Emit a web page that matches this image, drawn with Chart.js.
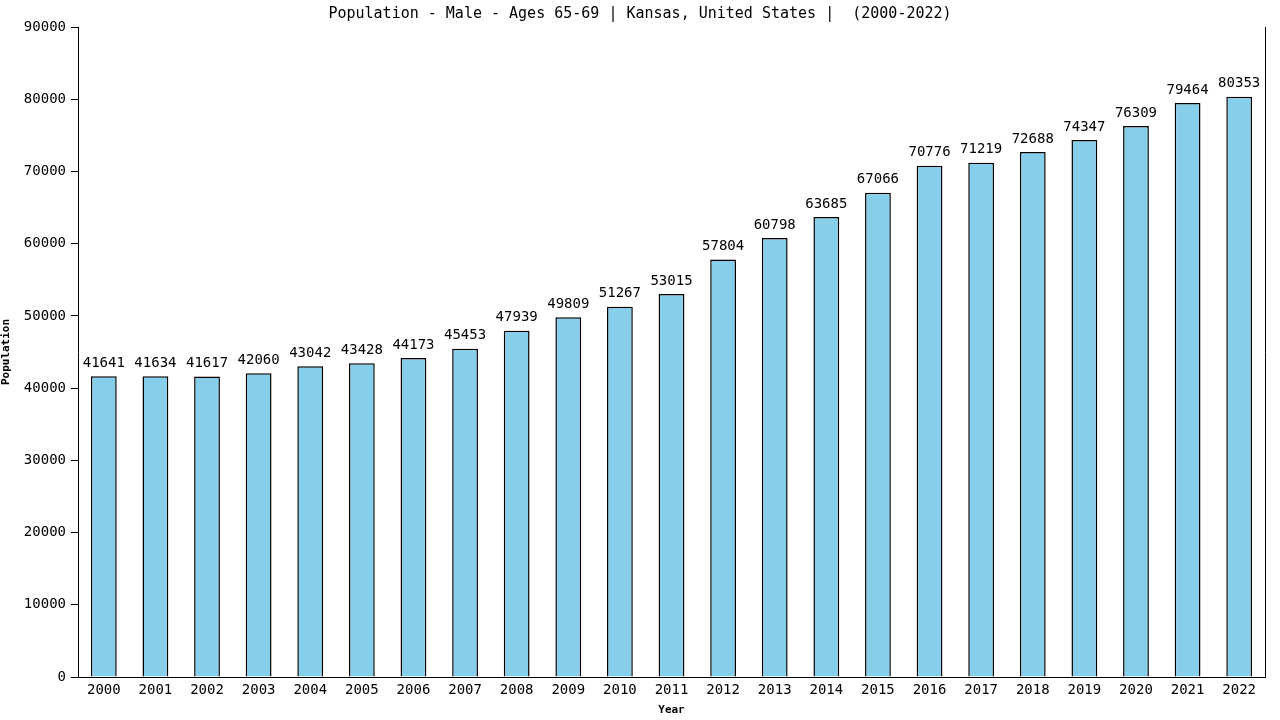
<!DOCTYPE html>
<html>
<head>
    <meta charset="UTF-8">
    <title>Population - Male - Ages 65-69 | Kansas</title>
    <script src="https://cdn.jsdelivr.net/npm/chart.js"></script>
    <style>
        body { margin: 0; background: #fff; }
        #popChart { display: block; }
    </style>
</head>
<body>
    <canvas id="popChart" width="1280" height="720"></canvas>

    <script>
    const years = ['2000', '2001', '2002', '2003', '2004', '2005', '2006', '2007', '2008', '2009', '2010', '2011',
                   '2012', '2013', '2014', '2015', '2016', '2017', '2018', '2019', '2020', '2021', '2022'];
    const population = [41641, 41634, 41617, 42060, 43042, 43428, 44173, 45453, 47939, 49809, 51267, 53015,
                        57804, 60798, 63685, 67066, 70776, 71219, 72688, 74347, 76309, 79464, 80353];
    const yTicks = [0, 10000, 20000, 30000, 40000, 50000, 60000, 70000, 80000, 90000];

    const mono = "'DejaVu Sans Mono', 'Liberation Mono', monospace";

    // numbers above each bar
    const valueLabels = {
        id: 'valueLabels',
        afterDatasetsDraw(chart) {
            const ctx = chart.ctx;
            const meta = chart.getDatasetMeta(0);
            ctx.save();
            ctx.font = '14px ' + mono;
            ctx.fillStyle = '#000';
            ctx.textAlign = 'center';
            ctx.textBaseline = 'bottom';
            meta.data.forEach((bar, i) => {
                ctx.fillText(String(population[i]), bar.x, bar.y - 6);
            });
            ctx.restore();
        }
    };

    new Chart('popChart', {
        type: 'bar',
        data: {
            labels: years,
            datasets: [{
                data: population,
                backgroundColor: '#87ceeb',
                borderColor: '#000',
                borderWidth: 1.5,
                barPercentage: 0.5,
                categoryPercentage: 1.0
            }]
        },
        options: {
            responsive: false,
            animation: false,
            devicePixelRatio: 1,
            layout: { padding: 0 },
            plugins: {
                legend: { display: false },
                tooltip: { enabled: false },
                title: {
                    display: true,
                    text: 'Population - Male - Ages 65-69 | Kansas, United States |  (2000-2022)',
                    color: '#000',
                    font: { family: mono, size: 15, weight: 'normal', lineHeight: 1.2 },
                    padding: { top: 5, bottom: 4 }
                }
            },
            scales: {
                x: {
                    grid: { display: false, drawTicks: false },
                    border: { display: true, color: '#000', width: 1 },
                    ticks: { color: '#000', font: { family: mono, size: 14 }, padding: 5, maxRotation: 0 },
                    title: {
                        display: true, text: 'Year', color: '#000',
                        font: { family: mono, size: 11, weight: 'bold' }, padding: { top: 2, bottom: 3 }
                    },
                    afterFit(scale) { scale.height = 43; }
                },
                y: {
                    min: 0,
                    max: 90000,
                    afterBuildTicks(scale) { scale.ticks = yTicks.map(v => ({ value: v })); },
                    grid: { drawOnChartArea: false, drawTicks: true, tickLength: 7, color: '#000', lineWidth: 1 },
                    border: { display: true, color: '#000', width: 1 },
                    ticks: {
                        color: '#000', font: { family: mono, size: 14 }, padding: 5,
                        callback: v => String(v)
                    },
                    title: {
                        display: true, text: 'Population', color: '#000',
                        font: { family: mono, size: 11, weight: 'bold' }, padding: { top: 0, bottom: 4 }
                    },
                    afterFit(scale) { scale.width = 78; }
                },
                y2: {
                    position: 'right',
                    min: 0,
                    max: 90000,
                    grid: { display: false },
                    border: { display: true, color: '#000', width: 1 },
                    ticks: { display: false },
                    afterFit(scale) { scale.width = 15; }
                }
            }
        },
        plugins: [valueLabels]
    });
    </script>
</body>
</html>
